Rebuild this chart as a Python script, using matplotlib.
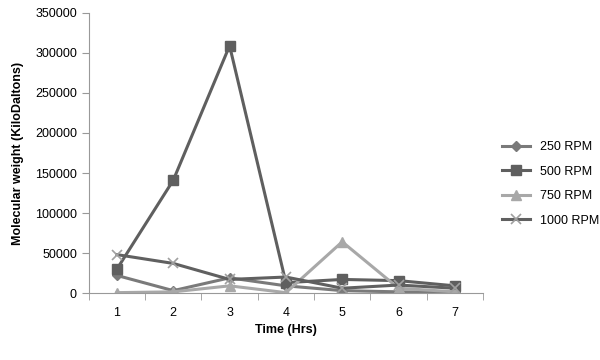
import matplotlib
matplotlib.use('Agg')
import matplotlib.pyplot as plt
import numpy as np

# Données
temps = [1, 2, 3, 4, 5, 6, 7]
rpm_250 = [22000, 3000, 19000, 9000, 3000, 1500, 1000]
rpm_500 = [30000, 141000, 309000, 13000, 17000, 15500, 9000]
rpm_750 = [500, 1500, 9000, 500, 64000, 6000, 1500]
rpm_1000 = [48000, 37000, 17000, 20000, 6000, 10000, 6000]

plt.rcParams['font.family'] = ['Liberation Sans', 'DejaVu Sans']

fig = plt.figure(figsize=(6, 3.6), dpi=100)
ax = fig.add_axes([0.148, 0.186, 0.657, 0.778])

ax.plot(temps, rpm_250, color='#7a7a7a', lw=2.2, marker='D', ms=5, label='250 RPM')
ax.plot(temps, rpm_500, color='#5f5f5f', lw=2.2, marker='s', ms=7, label='500 RPM')
ax.plot(temps, rpm_750, color='#a8a8a8', lw=2.2, marker='^', ms=7, label='750 RPM')
ax.plot(temps, rpm_1000, color='#606060', lw=2.2, marker='x', ms=7, mew=1.2,
        mec='#a0a0a0', label='1000 RPM')

ax.set_xlim(0.5, 7.5)
ax.set_ylim(0, 350000)
ax.set_yticks(np.arange(0, 350001, 50000))
ax.set_xticks(temps)
ax.set_xticks(np.arange(0.5, 7.6, 1), minor=True)
ax.tick_params(axis='x', which='major', length=0, pad=10, labelsize=9)
ax.tick_params(axis='x', which='minor', length=5, color='#999999', direction='out')
ax.tick_params(axis='y', length=5, color='#999999', labelsize=9)

for s in ['top', 'right']:
    ax.spines[s].set_visible(False)
for s in ['left', 'bottom']:
    ax.spines[s].set_color('#999999')

ax.set_ylabel('Molecular weight (KiloDaltons)', fontsize=9, fontweight='bold', labelpad=8)
ax.set_xlabel('Time (Hrs)', fontsize=9, fontweight='bold')

ax.legend(loc='center left', bbox_to_anchor=(1.02, 0.39), frameon=False,
          fontsize=9, labelspacing=1.0, handlelength=2.2)

fig.savefig('out.png', dpi=100)
